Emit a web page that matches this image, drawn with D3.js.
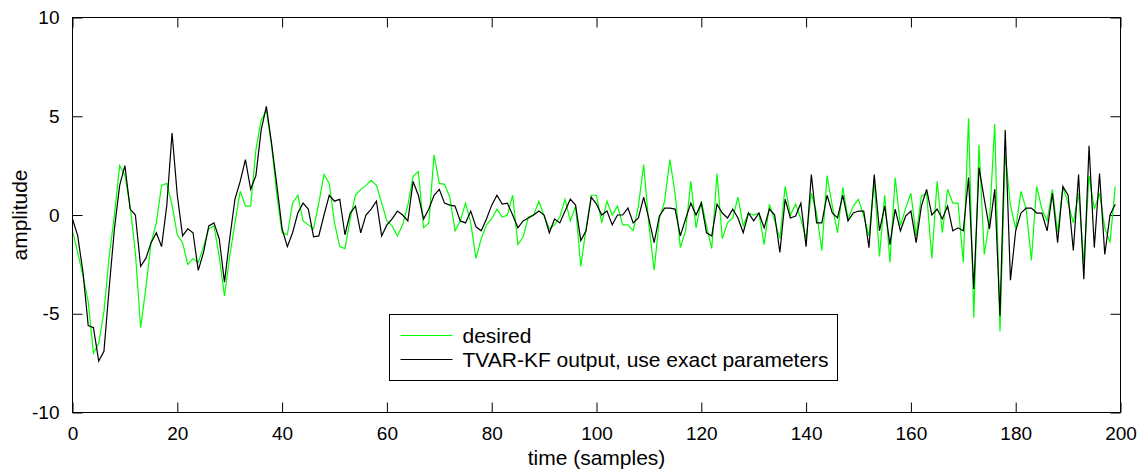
<!DOCTYPE html>
<html>
<head>
<meta charset="utf-8">
<script src="https://cdn.jsdelivr.net/npm/d3@7"></script>
<style>
  body { margin: 0; background: #fff; }
  svg text { font-family: "Liberation Sans", Arial, sans-serif; }
</style>
</head>
<body>
<svg id="chart" width="1146" height="470"></svg>
<script>
// samples 0..199
const desired = [
  -0.8, -1.9, -3.1, -4.4, -7.0, -6.5, -4.9, -2.1, 0.0, 2.5,
  2.0, 0.45, -1.9, -5.7, -3.7, -1.4, -0.4, 1.5, 1.6, 0.5,
  -1.0, -1.4, -2.5, -2.2, -2.4, -1.6, -0.7, -0.55, -2.1, -4.1,
  -2.1, -0.4, 1.2, 0.45, 0.45, 3.3, 4.8, 5.3, 3.5, 1.0,
  -0.9, -1.0, 0.6, 1.0, -0.3, -0.5, -0.7, 0.6, 2.05, 1.6,
  -0.4, -1.6, -1.7, -0.2, 1.0, 1.3, 1.5, 1.75, 1.5, 0.6,
  -0.3, -0.55, -1.06, -0.5, 0.5, 1.95, 2.2, -0.65, -0.4, 3.05,
  1.6, 1.55, 0.9, -0.8, -0.3, 0.6, -0.4, -2.2, -1.2, -0.5,
  -0.2, 0.3, -0.1, 0.0, 1.0, -1.5, -1.1, -0.1, 0.0, 0.7,
  -0.05, -0.7, -0.5, -0.1, 0.8, -0.3, 0.45, -2.6, -0.7, 1.0,
  1.0, -0.4, 0.7, 0.0, 0.45, -0.5, -0.5, -0.8, 0.45, 2.55,
  -0.5, -2.8, -0.2, 0.7, 2.8, 1.1, -1.65, -0.8, 1.7, -0.65,
  0.7, -0.55, -1.7, 2.1, -1.2, -0.4, -0.15, 0.9, -0.55, 0.1,
  0.0, 0.1, -1.5, 0.55, -0.3, -1.2, 1.45, 0.0, 0.55, -0.2,
  -1.2, 1.1, 0.1, -1.8, 2.0, 0.45, -0.9, 1.4, -0.2, 0.45,
  0.8, -0.05, -1.06, 1.7, -2.1, 1.0, -2.4, 1.9, -0.55, 0.35,
  1.1, -1.06, 0.95, 1.1, -2.2, 1.7, -0.9, 1.3, 0.6, 0.6,
  -2.4, 4.9, -5.2, 3.55, -2.0, -0.3, 4.6, -5.9, 3.1, 0.5,
  -0.7, 1.2, 0.3, -2.3, 1.45, 0.3, -0.3, 1.3, -0.9, 1.4,
  0.6, -0.4, 1.1, -2.4, 2.0, 0.3, 1.1, -0.65, -1.4, 1.45
];
const output = [
  -0.2, -1.06, -2.9, -5.6, -5.7, -7.4, -6.9, -3.7, -0.7, 1.5,
  2.5, 0.3, 0.0, -2.6, -2.2, -1.4, -0.9, -1.6, 0.5, 4.15,
  1.0, -1.06, -0.7, -0.9, -2.8, -1.9, -0.55, -0.4, -1.2, -3.4,
  -1.2, 0.8, 1.7, 2.8, 1.3, 2.0, 4.3, 5.5, 3.6, 1.5,
  -0.7, -1.6, -0.9, 0.1, 0.6, 0.3, -1.1, -1.06, 0.0, 1.0,
  0.7, 0.8, -1.0, 0.1, 0.45, -0.9, 0.0, 0.3, 0.7, -1.06,
  -0.5, -0.2, 0.2, 0.0, -0.3, 1.7, 1.0, -0.2, 0.3, 1.0,
  1.3, 0.6, 0.5, 0.45, -0.3, -0.4, 0.2, -0.6, -0.8, -0.2,
  0.5, 1.0, 0.55, 0.6, 0.0, -0.65, -0.3, -0.15, 0.0, 0.2,
  0.0, -0.9, -0.2, -0.4, 0.2, 0.8, 0.5, -1.3, -0.8, 0.9,
  0.55, 0.0, 0.2, -0.5, 0.0, 0.0, 0.35, -0.4, -0.15, 0.9,
  -0.2, -1.4, -0.05, 0.35, 0.35, 0.3, -1.06, -0.2, 0.6, 0.0,
  0.6, -0.9, -1.06, 0.55, 0.1, -0.15, 0.3, -0.15, -0.9, 0.1,
  -0.3, 0.1, -0.65, 0.3, 0.0, -1.9, 0.8, -0.15, -0.05, 0.6,
  -1.6, 2.05, -0.4, -0.4, 1.0, 0.1, -0.15, 1.0, -0.3, 0.1,
  0.2, 0.2, -1.65, 2.05, -0.8, 0.45, -1.5, 0.3, -0.8, -0.05,
  0.2, -1.4, 0.45, 1.3, 0.0, 0.3, -0.2, 0.45, -0.8, -0.65,
  -0.8, 1.9, -3.75, 2.4, 0.8, -0.7, 1.3, -5.1, 4.3, -3.3,
  -0.8, 0.1, 0.35, 0.35, 0.1, 0.1, -0.8, 1.1, -1.4, 1.45,
  1.0, -1.8, 2.05, -3.25, 3.5, -1.65, 2.1, -2.0, 0.0, 0.55
];
const xTicks = [0, 20, 40, 60, 80, 100, 120, 140, 160, 180, 200];
const yTicks = [-10, -5, 0, 5, 10];
const seriesNames = ["desired", "TVAR-KF output, use exact parameters"];
const seriesColors = ["#00ff00", "#000000"];

const svg = d3.select("#chart");
const plotL = 72.5, plotR = 1120.5, plotT = 17.5, plotB = 412.5;
const fs = 19;     // tick labels
const fsLab = 21;  // axis titles and legend

const x = d3.scaleLinear().domain([0, 200]).range([plotL, plotR]);
const y = d3.scaleLinear().domain([-10, 10]).range([plotB, plotT]);
const fmt = d => String(d); // plain hyphen minus like the original

// axes, ticks point inward (matlab style)
const tick = 10;
const gx = svg.append("g").attr("transform", `translate(0,${plotB})`)
  .call(d3.axisBottom(x).tickValues(xTicks).tickFormat(fmt).tickSizeInner(-tick).tickSizeOuter(0).tickPadding(14));
const gxTop = svg.append("g").attr("transform", `translate(0,${plotT})`)
  .call(d3.axisTop(x).tickValues(xTicks).tickSizeInner(-tick).tickSizeOuter(0).tickFormat(""));
const gy = svg.append("g").attr("transform", `translate(${plotL},0)`)
  .call(d3.axisLeft(y).tickValues(yTicks).tickFormat(fmt).tickSizeInner(-tick).tickSizeOuter(0).tickPadding(13));
const gyR = svg.append("g").attr("transform", `translate(${plotR},0)`)
  .call(d3.axisRight(y).tickValues(yTicks).tickSizeInner(-tick).tickSizeOuter(0).tickFormat(""));

[gx, gxTop, gy, gyR].forEach(g => {
  g.select(".domain").remove();
  g.selectAll("line").attr("stroke", "#000");
  g.selectAll("text").attr("font-size", fs).attr("fill", "#000")
    .style("font-family", '"Liberation Sans", Arial, sans-serif');
});

const line = d3.line().x((d, i) => x(i)).y(d => y(d));
[desired, output].forEach((s, k) => {
  svg.append("path")
    .datum(s)
    .attr("fill", "none")
    .attr("stroke", seriesColors[k])
    .attr("stroke-width", 1.2)
    .attr("d", line);
});

svg.append("rect")
  .attr("x", plotL).attr("y", plotT)
  .attr("width", plotR - plotL).attr("height", plotB - plotT)
  .attr("fill", "none").attr("stroke", "#000");

// axis titles
svg.append("text")
  .attr("x", (plotL + plotR) / 2).attr("y", 465)
  .attr("text-anchor", "middle").attr("font-size", fsLab)
  .text("time (samples)");
svg.append("text")
  .attr("transform", `translate(27,${(plotT + plotB) / 2}) rotate(-90)`)
  .attr("text-anchor", "middle").attr("font-size", fsLab)
  .text("amplitude");

// legend
const lg = svg.append("g").attr("transform", "translate(389.5,314.5)");
lg.append("rect").attr("width", 448).attr("height", 66)
  .attr("fill", "#fff").attr("stroke", "#000");
seriesNames.forEach((name, k) => {
  const yy = 21 + k * 24;
  lg.append("line").attr("x1", 11).attr("x2", 63).attr("y1", yy).attr("y2", yy)
    .attr("stroke", seriesColors[k]).attr("stroke-width", 1.2);
  lg.append("text").attr("x", 73).attr("y", yy + 7)
    .attr("font-size", fsLab).text(name);
});
</script>
</body>
</html>
